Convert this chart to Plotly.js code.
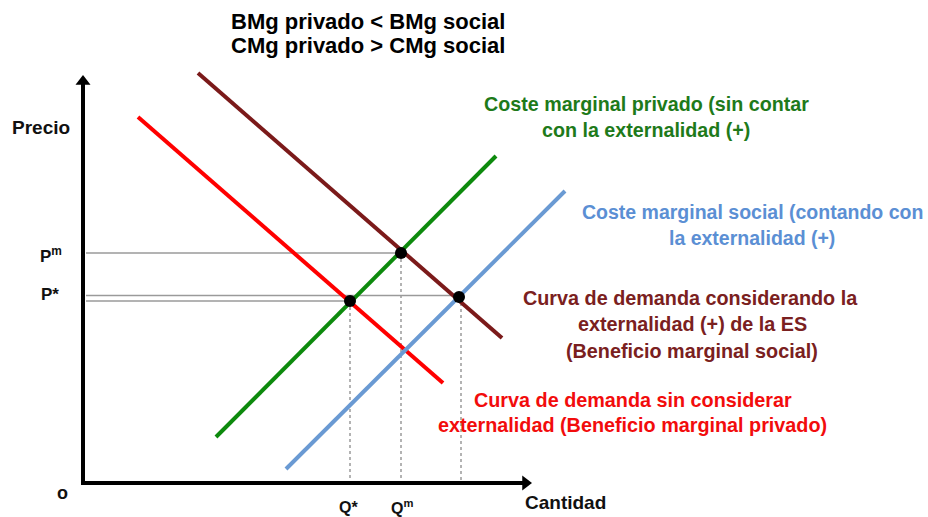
<!DOCTYPE html>
<html>
<head>
<meta charset="utf-8">
<script src="https://cdn.plot.ly/plotly-3.0.1.min.js"></script>
<style>html,body{margin:0;padding:0;background:#fff;}#chart{width:928px;height:517px;}</style>
</head>
<body>
<div id="chart"></div>
<script>
// ---- Data (quantity on x, price on y; arbitrary units) ----
const axisQuantity = [-0.2, 44.9];  // x-axis extent (arrow tip at the end)
const axisPrice = [-0.2, 40.8];     // y-axis extent (arrow tip at the end)

const demandPrivQ = [5.5, 36.0];    // Beneficio marginal privado
const demandPrivP = [36.6, 10.0];
const demandSocQ = [11.5, 41.9];    // Beneficio marginal social
const demandSocP = [41.0, 14.5];
const costPrivQ = [13.3, 41.3];     // Coste marginal privado
const costPrivP = [4.6, 32.7];
const costSocQ = [20.3, 48.2];      // Coste marginal social
const costSocP = [1.4, 29.2];

const eqQ = [26.7, 31.8, 37.6];     // Q*, Qm, social-optimum quantity
const eqP = [18.2, 23.0, 18.6];     // P*, Pm, social-optimum price
const guideQ = [26.7, 31.8, 37.8];  // vertical dotted guides
const guideStart = 0.3;             // horizontal guides start just right of y-axis

const tickLabelsX = ['Q*', 'Q<sup>m</sup>'];
const tickLabelsY = ['P<sup>m</sup>', 'P*'];

// ---- Colours ----
const cRed = '#ff0000', cBrown = '#7b1a1a', cGreen = '#0d8a0d', cBlue = '#6a9ad3';
const tRed = '#f20c0c', tBrown = '#7a2020', tGreen = '#1e7a1a', tBlue = '#5b8fd4';
const guideCol = '#9a9a9a';
const FONT = 'Liberation Sans, Arial, sans-serif';
const HEAD = 13;          // arrowhead marker size (px)
const HEAD_R = 0.65;      // half of marker size in data units (1 unit = 10 px)

const traces = [];
function line(x, y, color, width, dash) {
  traces.push({x: x, y: y, type: 'scatter', mode: 'lines', hoverinfo: 'skip',
    line: {color: color, width: width, dash: dash || 'solid'}});
}
// horizontal guides (solid grey)
line([guideStart, eqQ[1]], [eqP[1], eqP[1]], guideCol, 1.5);
line([guideStart, eqQ[2]], [eqP[2] + 0.15, eqP[2] + 0.15], guideCol, 1.5);
line([guideStart, eqQ[0]], [eqP[0], eqP[0]], guideCol, 1.5);
// vertical guides (dotted)
line([guideQ[0], guideQ[0]], [eqP[0], 0], guideCol, 1.5, 'dot');
line([guideQ[1], guideQ[1]], [eqP[1], 0], guideCol, 1.5, 'dot');
line([guideQ[2], guideQ[2]], [eqP[2], 0], guideCol, 1.5, 'dot');
// axes
line([0, 0], [axisPrice[0], axisPrice[1] - 0.8], '#000', 4);
line([axisQuantity[0], axisQuantity[1] - 0.8], [0, 0], '#000', 4);
traces.push({x: [0], y: [axisPrice[1] - HEAD_R], type: 'scatter', mode: 'markers', hoverinfo: 'skip',
  marker: {symbol: 'triangle-up', size: HEAD, color: '#000'}});
traces.push({x: [axisQuantity[1] - HEAD_R], y: [0], type: 'scatter', mode: 'markers', hoverinfo: 'skip',
  marker: {symbol: 'triangle-right', size: HEAD, color: '#000'}});
// curves
line(demandPrivQ, demandPrivP, cRed, 4);
line(demandSocQ, demandSocP, cBrown, 4);
line(costPrivQ, costPrivP, cGreen, 4);
line(costSocQ, costSocP, cBlue, 4);
// equilibrium points
traces.push({x: eqQ, y: eqP, type: 'scatter', mode: 'markers', hoverinfo: 'skip',
  marker: {color: '#000', size: 12}});

function txt(x, y, text, color, size, anchor) {
  return {x: x, y: y, xref: 'x', yref: 'y', text: '<b>' + text + '</b>', showarrow: false,
    xanchor: anchor || 'center', yanchor: 'middle',
    font: {family: FONT, size: size, color: color}};
}
const annotations = [
  // titles
  txt(28.5, 46.15, 'BMg privado &lt; BMg social', '#000', 22),
  txt(28.5, 43.8, 'CMg privado &gt; CMg social', '#000', 22),
  // axis labels
  txt(-4.2, 35.6, 'Precio', '#111', 19),
  txt(48.25, -1.95, 'Cantidad', '#111', 19),
  txt(-2.05, -1.0, 'o', '#111', 18),
  txt(-3.2, 22.8, tickLabelsY[0], '#111', 17),
  txt(-3.3, 18.9, tickLabelsY[1], '#111', 17),
  txt(26.55, -2.4, tickLabelsX[0], '#111', 16),
  txt(31.85, -2.4, tickLabelsX[1], '#111', 16),
  // curve labels
  txt(56.3, 37.9, 'Coste marginal privado (sin contar', tGreen, 19.7),
  txt(56.3, 35.3, 'con la externalidad (+)', tGreen, 19.7),
  txt(66.9, 27.15, 'Coste marginal social (contando con', tBlue, 19.5),
  txt(66.9, 24.5, 'la externalidad (+)', tBlue, 19.5),
  txt(60.7, 18.55, 'Curva de demanda considerando la', tBrown, 19.8),
  txt(60.9, 15.9, 'externalidad (+) de la ES', tBrown, 19.8),
  txt(60.9, 13.2, '(Beneficio marginal social)', tBrown, 19.8),
  txt(55.0, 8.35, 'Curva de demanda sin considerar', tRed, 19.8),
  txt(54.9, 5.85, 'externalidad (Beneficio marginal privado)', tRed, 19.8)
];

const layout = {
  width: 928, height: 517,
  margin: {l: 0, r: 0, t: 0, b: 0, pad: 0},
  paper_bgcolor: '#fff', plot_bgcolor: '#fff',
  showlegend: false,
  xaxis: {range: [-8.3, 84.5], visible: false, fixedrange: true},
  yaxis: {range: [-3.4, 48.3], visible: false, fixedrange: true},
  annotations: annotations
};
Plotly.newPlot('chart', traces, layout, {displayModeBar: false, staticPlot: true});
</script>
</body>
</html>
